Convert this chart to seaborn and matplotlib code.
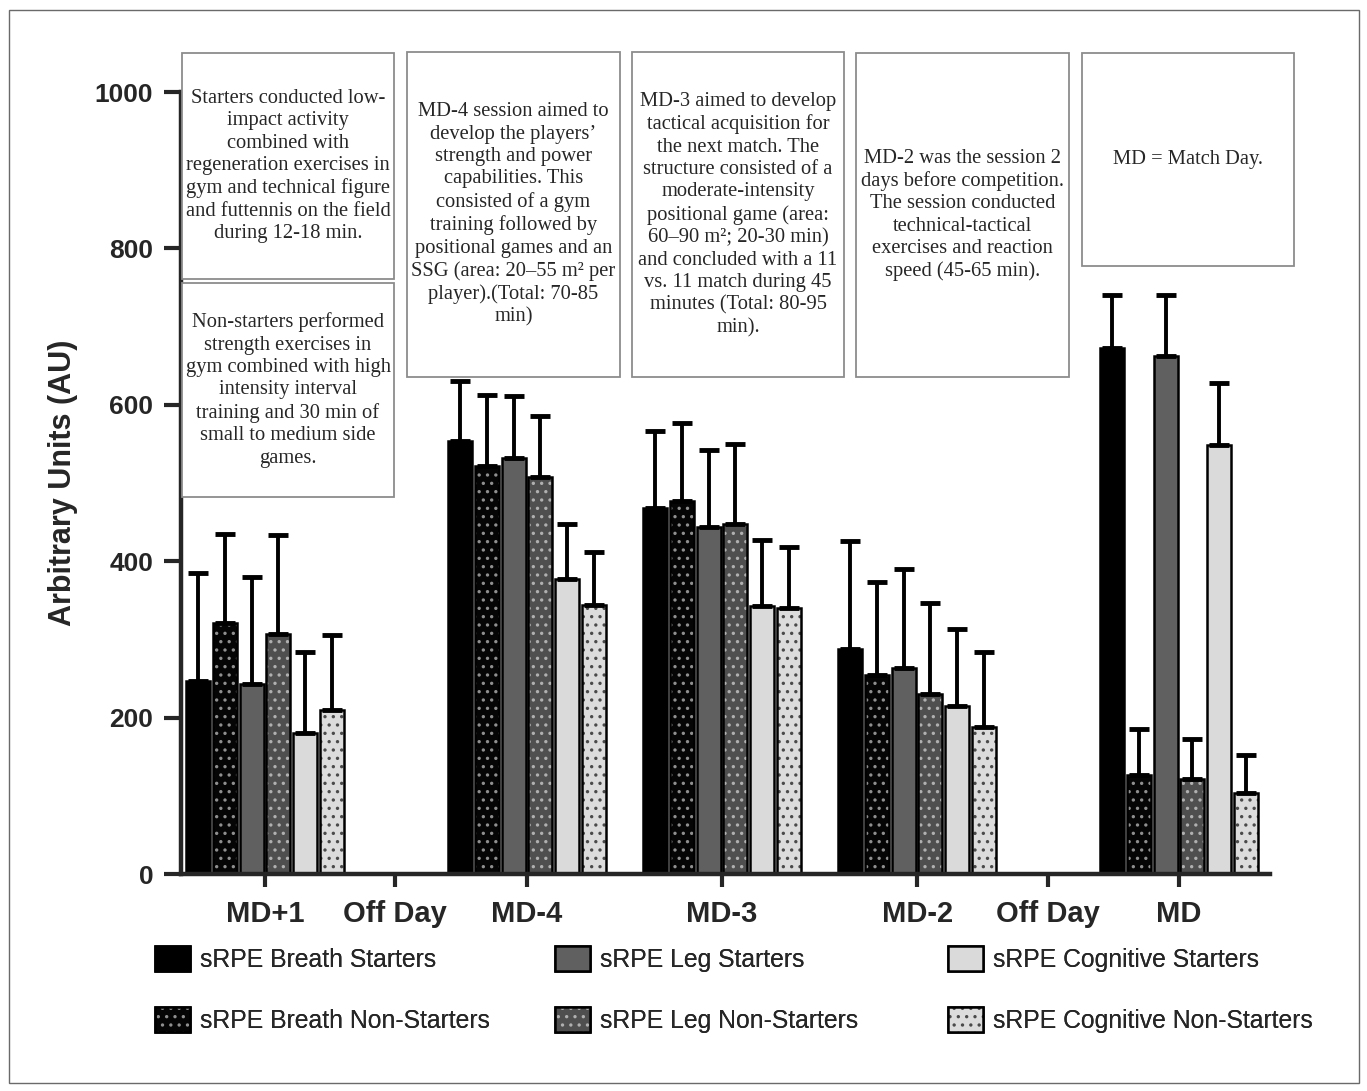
import numpy as np
import pandas as pd
import matplotlib
matplotlib.use("Agg")
import matplotlib.pyplot as plt
from matplotlib.patches import Rectangle, Patch
from matplotlib.legend_handler import HandlerTuple
import seaborn as sns

# sessions with bars, and the full tick row (incl. off days)
sessions = ["MD+1", "MD-4", "MD-3", "MD-2", "MD"]
tick_labels = ["MD+1", "Off Day", "MD-4", "MD-3", "MD-2", "Off Day", "MD"]

series = [
    "sRPE Breath Starters",
    "sRPE Breath Non-Starters",
    "sRPE Leg Starters",
    "sRPE Leg Non-Starters",
    "sRPE Cognitive Starters",
    "sRPE Cognitive Non-Starters",
]

# mean AU per session
breath_starters = [247, 554, 468, 288, 672]
breath_non_starters = [321, 522, 477, 254, 127]
leg_starters = [243, 532, 444, 263, 663]
leg_non_starters = [307, 508, 448, 230, 122]
cog_starters = [180, 377, 343, 215, 549]
cog_non_starters = [210, 344, 340, 188, 104]

# upper SD
breath_starters_sd = [138, 76, 99, 138, 68]
breath_non_starters_sd = [114, 91, 100, 119, 58]
leg_starters_sd = [137, 79, 98, 127, 77]
leg_non_starters_sd = [126, 78, 102, 116, 51]
cog_starters_sd = [104, 71, 84, 98, 79]
cog_non_starters_sd = [95, 68, 78, 96, 48]

means = [breath_starters, breath_non_starters, leg_starters,
         leg_non_starters, cog_starters, cog_non_starters]
sds = [breath_starters_sd, breath_non_starters_sd, leg_starters_sd,
       leg_non_starters_sd, cog_starters_sd, cog_non_starters_sd]

# layout: x position of each tick (off days sit between sessions)
tick_pos = [0, 0.667, 1.344, 2.344, 3.344, 4.015, 4.687]
session_pos = [tick_pos[i] for i in (0, 2, 3, 4, 6)]

rows = []
for name, m, s in zip(series, means, sds):
    for p, v, e in zip(session_pos, m, s):
        rows.append({"series": name, "pos": p, "value": v, "sd": e})
df = pd.DataFrame(rows)

colors = {
    "sRPE Breath Starters": "#000000",
    "sRPE Breath Non-Starters": "#050505",
    "sRPE Leg Starters": "#606060",
    "sRPE Leg Non-Starters": "#4f4f4f",
    "sRPE Cognitive Starters": "#dadada",
    "sRPE Cognitive Non-Starters": "#dcdcdc",
}
hatch_colors = {
    "sRPE Breath Non-Starters": "#8f8f8f",
    "sRPE Leg Non-Starters": "#b0b0b0",
    "sRPE Cognitive Non-Starters": "#4a4a4a",
}

sns.set_style("ticks")
plt.rcParams["font.family"] = ["Liberation Sans", "DejaVu Sans"]
plt.rcParams["hatch.linewidth"] = 1.2

W, H = 1367, 1091
fig = plt.figure(figsize=(W / 100, H / 100), dpi=100)
fig.patch.set_facecolor("white")
ax = fig.add_axes([181 / W, 1 - 874 / H, (1270 - 181) / W, (874 - 92) / H])

sns.barplot(data=df, x="pos", y="value", hue="series", hue_order=series,
            palette=colors, native_scale=True, width=0.82, gap=0.1,
            saturation=1, errorbar=None, legend=False,
            edgecolor="black", linewidth=1.8, ax=ax)

for name, cont in zip(series, ax.containers):
    sub = df[df.series == name].sort_values("pos")
    xs, ys = [], []
    for patch in cont:
        xs.append(patch.get_x() + patch.get_width() / 2)
        ys.append(patch.get_height())
        if name in hatch_colors:
            patch.set_hatch("..")
            patch.set_edgecolor(hatch_colors[name])
            patch.set_linewidth(0)
            ax.add_patch(Rectangle(patch.get_xy(), patch.get_width(), patch.get_height(),
                                   fill=False, ec="black", lw=1.8, zorder=patch.get_zorder() + 0.1))
    ax.errorbar(xs, ys, yerr=[np.zeros(len(ys)), sub["sd"].values], fmt="none",
                ecolor="black", elinewidth=2.8, capsize=7, capthick=3.5, zorder=1)

ax.set_xlim(-0.431, 5.154)
ax.set_ylim(0, 1000)
ax.set_yticks([0, 200, 400, 600, 800, 1000])
ax.set_xticks(tick_pos)
ax.set_xticklabels(tick_labels, fontsize=21, fontweight="bold")
for lab in ax.get_yticklabels():
    lab.set_fontsize(19)
    lab.set_fontweight("bold")
ax.tick_params(axis="y", length=12, width=3, pad=8)
ax.tick_params(axis="x", length=9, width=3, pad=10)
ax.set_xlabel("")
ax.set_ylabel("Arbitrary Units (AU)", fontsize=22, fontweight="bold", labelpad=12)
sns.despine(ax=ax)
for sp in ("left", "bottom"):
    ax.spines[sp].set_linewidth(3.2)

# annotation boxes (pixel layout)
boxes = [
    (182, 53, 394, 279, "Starters conducted low-\nimpact activity\ncombined with\nregeneration exercises in\ngym and technical figure\nand futtennis on the field\nduring 12-18 min."),
    (182, 283, 394, 497, "Non-starters performed\nstrength exercises in\ngym combined with high\nintensity interval\ntraining and 30 min of\nsmall to medium side\ngames."),
    (407, 52, 620, 377, "MD-4 session aimed to\ndevelop the players’\nstrength and power\ncapabilities. This\nconsisted of a gym\ntraining followed by\npositional games and an\nSSG (area: 20–55 m² per\nplayer).(Total: 70-85\nmin)"),
    (632, 52, 844, 377, "MD-3 aimed to develop\ntactical acquisition for\nthe next match. The\nstructure consisted of a\nmoderate-intensity\npositional game (area:\n60–90 m²; 20-30 min)\nand concluded with a 11\nvs. 11 match during 45\nminutes (Total: 80-95\nmin)."),
    (856, 53, 1069, 377, "MD-2 was the session 2\ndays before competition.\nThe session conducted\ntechnical-tactical\nexercises and reaction\nspeed (45-65 min)."),
    (1082, 53, 1294, 266, "MD = Match Day."),
]
for x0, y0, x1, y1, txt in boxes:
    fig.add_artist(Rectangle((x0 / W, 1 - y1 / H), (x1 - x0) / W, (y1 - y0) / H,
                             transform=fig.transFigure, fc="white", ec="#8c8c8c", lw=1.3, zorder=5))
    fig.text((x0 + x1) / 2 / W, 1 - (y0 + y1) / 2 / H, txt, ha="center", va="center",
             multialignment="center", fontsize=14.8, linespacing=1.24,
             family=["Liberation Serif", "DejaVu Serif"], zorder=6)

# legend: three columns of two entries
handles = []
for name in series:
    if name in hatch_colors:
        handles.append((Patch(fc=colors[name], ec=hatch_colors[name], hatch="..", lw=0),
                        Patch(fill=False, ec="black", lw=1.8)))
    else:
        handles.append(Patch(fc=colors[name], ec="black", lw=1.8))
col_x = [155, 555, 948]
for j, cx in enumerate(col_x):
    leg = fig.legend(handles[2 * j:2 * j + 2], series[2 * j:2 * j + 2],
                     loc="upper left", bbox_to_anchor=(cx / W, 1 - 946 / H),
                     frameon=False, borderpad=0, borderaxespad=0,
                     handler_map={tuple: HandlerTuple(ndivide=1)},
                     prop={"size": 17.8},
                     handlelength=1.42, handleheight=1.2, handletextpad=0.4,
                     labelspacing=1.4)
    fig.add_artist(leg)

fig.add_artist(Rectangle((9 / W, 1 - 1083 / H), (1359 - 9) / W, (1083 - 10) / H,
                         transform=fig.transFigure, fill=False, ec="#6a6a6a", lw=1))

fig.savefig("out.png", dpi=100)
